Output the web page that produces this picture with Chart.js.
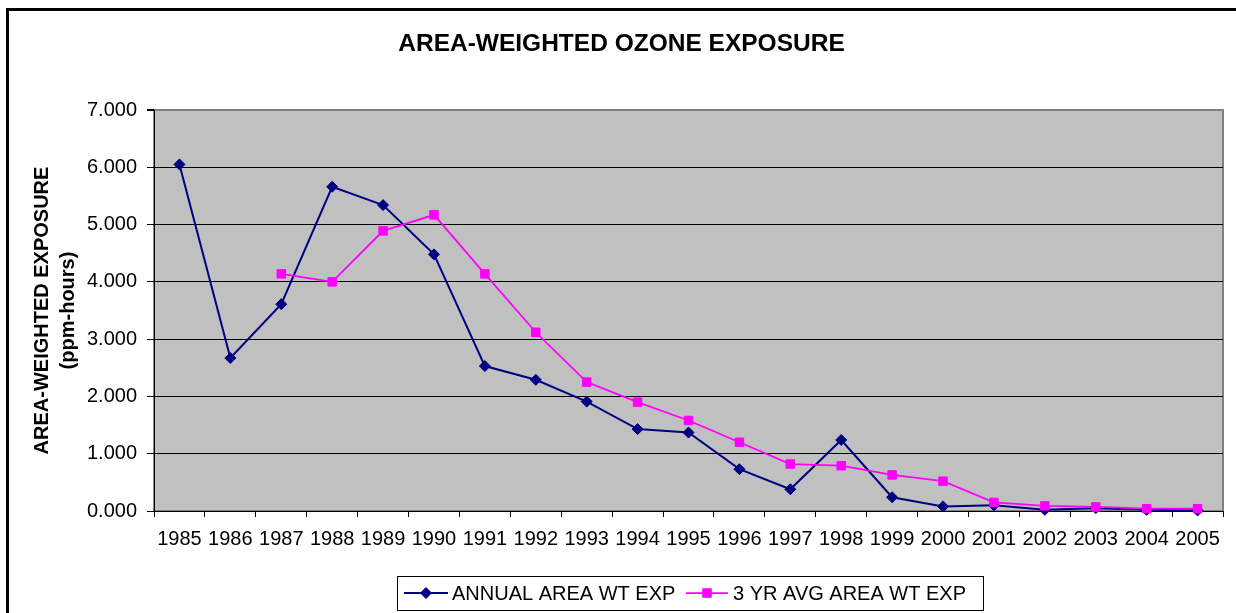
<!DOCTYPE html>
<html>
<head>
<meta charset="utf-8">
<script src="https://cdn.jsdelivr.net/npm/chart.js@4/dist/chart.umd.min.js"></script>
<style>
  html, body { margin: 0; padding: 0; background: #fff; }
  #wrap { width: 1236px; height: 613px; position: relative; }
</style>
</head>
<body>
<div id="wrap"><canvas id="c"></canvas></div>
<script>
const titleText = 'AREA-WEIGHTED OZONE EXPOSURE';
const yTitle = ['AREA-WEIGHTED EXPOSURE', '(ppm-hours)'];
const years = ['1985','1986','1987','1988','1989','1990','1991','1992','1993','1994','1995',
               '1996','1997','1998','1999','2000','2001','2002','2003','2004','2005'];
const annualLabel = 'ANNUAL AREA WT EXP';
const annual = [6.05, 2.67, 3.61, 5.66, 5.34, 4.48, 2.53, 2.29, 1.91, 1.43, 1.37,
                0.73, 0.38, 1.24, 0.24, 0.08, 0.10, 0.02, 0.05, 0.02, 0.01];
const avgLabel = '3 YR AVG AREA WT EXP';
const avg3 = [null, null, 4.14, 4.00, 4.89, 5.17, 4.14, 3.12, 2.25, 1.90, 1.58,
              1.20, 0.82, 0.79, 0.63, 0.52, 0.15, 0.09, 0.07, 0.04, 0.04];
const yTicks = [0, 1, 2, 3, 4, 5, 6, 7];

const FONT = '"Liberation Sans", Arial, sans-serif';
const NAVY = '#000080';
const MAGENTA = '#FF00FF';

const framePlugin = {
  id: 'frame',
  beforeDraw(chart) {
    const ctx = chart.ctx;
    const a = chart.chartArea;
    ctx.save();
    ctx.fillStyle = '#fff';
    ctx.fillRect(0, 0, chart.width, chart.height);
    ctx.strokeStyle = '#000';
    ctx.lineWidth = 3;
    ctx.strokeRect(7.5, 9.5, chart.width + 20, chart.height + 20);
    ctx.fillStyle = '#C0C0C0';
    ctx.fillRect(a.left, a.top, a.right - a.left, a.bottom - a.top);
    ctx.strokeStyle = '#808080';
    ctx.lineWidth = 2;
    ctx.strokeRect(a.left, a.top, a.right - a.left, a.bottom - a.top);
    ctx.restore();
  },
  afterDraw(chart) {
    const ctx = chart.ctx;
    ctx.save();
    const bx = 397.5, by = 576.5, bw = 586, bh = 34;
    ctx.strokeStyle = '#000';
    ctx.lineWidth = 1;
    ctx.strokeRect(bx, by, bw, bh);
    const cy = 593;
    const items = [
      { ds: chart.data.datasets[0], x0: 404, x1: 448, tx: 452 },
      { ds: chart.data.datasets[1], x0: 686, x1: 728, tx: 733 }
    ];
    ctx.font = '20px ' + FONT;
    ctx.textBaseline = 'middle';
    ctx.textAlign = 'left';
    for (const it of items) {
      const ds = it.ds;
      ctx.strokeStyle = ds.borderColor;
      ctx.lineWidth = ds.borderWidth;
      ctx.beginPath();
      ctx.moveTo(it.x0, cy);
      ctx.lineTo(it.x1, cy);
      ctx.stroke();
      ctx.fillStyle = ds.pointBackgroundColor;
      ctx.strokeStyle = ds.pointBorderColor;
      ctx.lineWidth = 1;
      Chart.helpers.drawPoint(ctx, { pointStyle: ds.pointStyle, radius: ds.pointRadius, borderWidth: 1, rotation: 0 },
        (it.x0 + it.x1) / 2, cy);
      ctx.fillStyle = '#000';
      ctx.fillText(ds.label, it.tx, cy + 1);
    }
    ctx.restore();
  }
};

new Chart(document.getElementById('c'), {
  type: 'line',
  data: {
    labels: years,
    datasets: [
      {
        label: annualLabel,
        data: annual,
        borderColor: NAVY,
        backgroundColor: NAVY,
        borderWidth: 2,
        pointStyle: 'rectRot',
        pointRadius: 5.5,
        pointBackgroundColor: NAVY,
        pointBorderColor: NAVY,
        pointBorderWidth: 1,
        tension: 0,
        clip: false,
        order: 1
      },
      {
        label: avgLabel,
        data: avg3,
        borderColor: MAGENTA,
        backgroundColor: MAGENTA,
        borderWidth: 1.75,
        pointStyle: 'rect',
        pointRadius: 6,
        pointBackgroundColor: MAGENTA,
        pointBorderColor: MAGENTA,
        pointBorderWidth: 1,
        tension: 0,
        spanGaps: false,
        clip: false,
        order: 0
      }
    ]
  },
  options: {
    responsive: true,
    maintainAspectRatio: false,
    animation: false,
    layout: { padding: { left: 20, right: 13, top: 0, bottom: 0 } },
    plugins: {
      legend: { display: false },
      tooltip: { enabled: false },
      title: {
        display: true,
        text: titleText,
        color: '#000',
        font: { family: FONT, size: 24.5, weight: 'bold' },
        padding: { top: 29.5, bottom: 51.1 }
      }
    },
    scales: {
      x: {
        type: 'category',
        offset: true,
        grid: {
          offset: true,
          drawOnChartArea: false,
          drawTicks: true,
          tickLength: 6,
          tickColor: '#000',
          tickWidth: 1
        },
        border: { display: true, color: '#000', width: 1 },
        ticks: {
          color: '#000',
          font: { family: FONT, size: 20 },
          padding: 10,
          maxRotation: 0,
          autoSkip: false
        },
        afterFit(scale) { scale.height = 102; }
      },
      y: {
        min: 0,
        max: 7,
        afterBuildTicks(scale) { scale.ticks = yTicks.map(v => ({ value: v })); },
        grid: {
          color: ctx => (ctx.tick && ctx.tick.value === 7) ? '#808080' : '#000',
          lineWidth: ctx => (ctx.tick && ctx.tick.value === 7) ? 2 : 1,
          drawTicks: true,
          tickLength: 7,
          tickColor: '#000'
        },
        border: { display: true, color: '#000', width: 1 },
        ticks: {
          color: '#000',
          font: { family: FONT, size: 20 },
          padding: 10,
          callback: v => Number(v).toFixed(3)
        },
        title: {
          display: true,
          text: yTitle,
          color: '#000',
          font: { family: FONT, size: 20, weight: 'bold', lineHeight: 1.3 },
          padding: { top: 9, bottom: 0 }
        },
        afterFit(scale) { scale.width = 134; }
      }
    }
  },
  plugins: [framePlugin]
});
</script>
</body>
</html>
